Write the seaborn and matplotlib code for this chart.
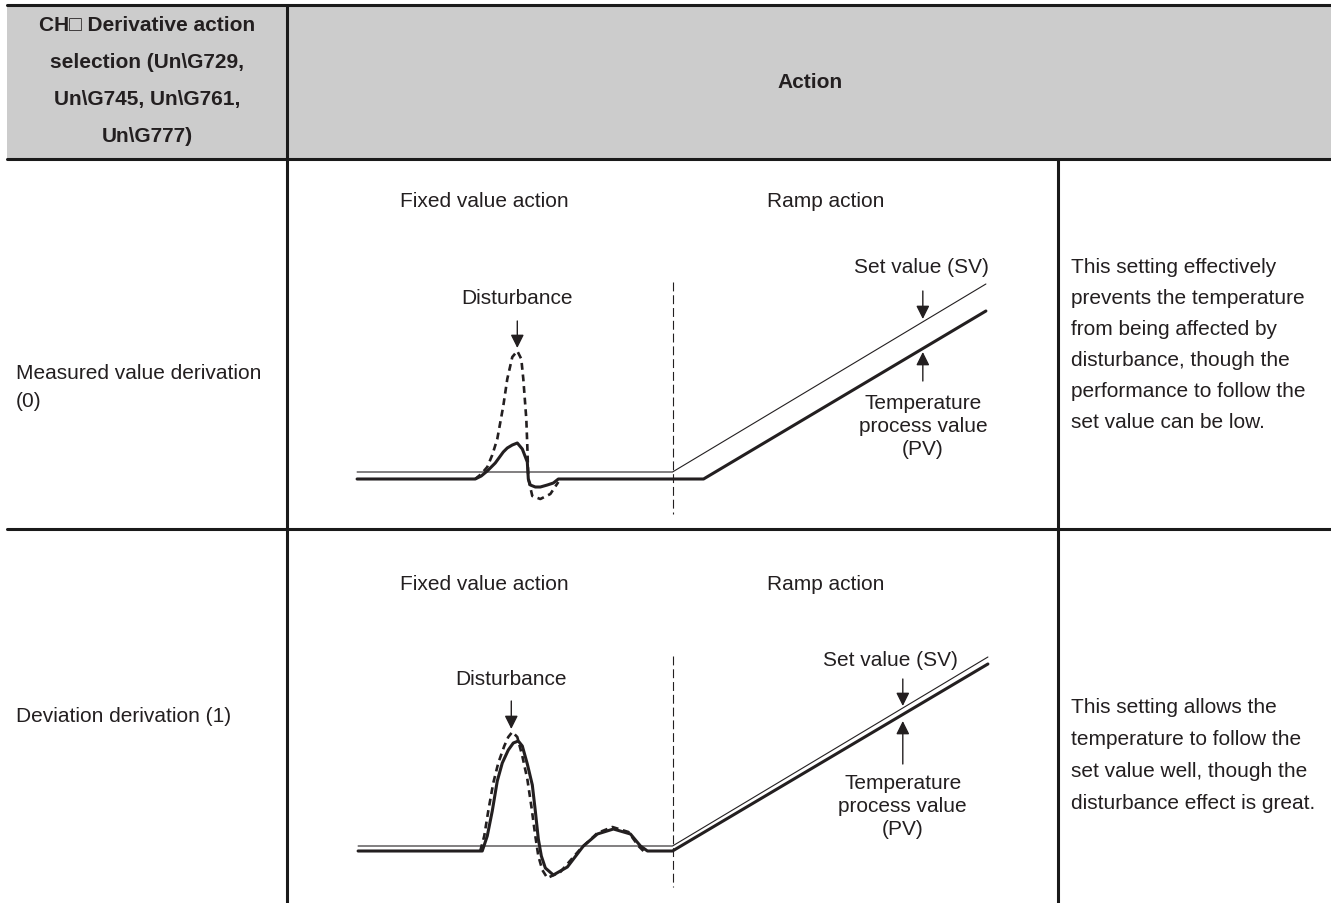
import matplotlib
matplotlib.use("Agg")
import matplotlib.pyplot as plt
from matplotlib.patches import Rectangle
import seaborn as sns

sns.set_theme(style="white")
plt.rcParams["font.family"] = ["Liberation Sans", "DejaVu Sans"]

# ---- table text ----
header_left = ["CH\u25a1 Derivative action", "selection (Un\\G729,",
               "Un\\G745, Un\\G761,", "Un\\G777)"]
header_right = "Action"
row_labels = [["Measured value derivation", "(0)"],
              ["Deviation derivation (1)"]]
row_notes = [["This setting effectively", "prevents the temperature",
              "from being affected by", "disturbance, though the",
              "performance to follow the", "set value can be low."],
             ["This setting allows the", "temperature to follow the",
              "set value well, though the", "disturbance effect is great."]]
phase_labels = ["Fixed value action", "Ramp action"]

# ---- waveforms: time vs. value above the PV baseline ----
# row 1: measured value derivation
m_sv_t = [0, 315, 628]
m_sv_v = [7, 7, 195]
m_pv_t = [0, 118, 124, 130, 138, 146, 150, 155, 160, 165, 170, 171, 173,
          178, 183, 190, 196, 201, 346, 628]
m_pv_v = [0, 0, 3, 8, 16, 27, 31, 34, 36, 30, 17, 0, -6, -8, -8, -6, -4, 0, 0, 168]
m_alt_t = [118, 124, 130, 135, 140, 146, 150, 155, 160, 164, 166, 169, 170,
           171, 175, 183, 193, 201]
m_alt_v = [0, 5, 12, 24, 40, 73, 100, 122, 128, 120, 100, 60, 33, 0, -17,
           -20, -15, -3]

# row 2: deviation derivation
d_sv_t = [1, 315, 630]
d_sv_v = [5, 5, 194]
d_pv_t = [1, 125, 130, 135, 140, 145, 151, 156, 161, 165, 170, 175, 178, 181,
          184, 188, 196, 210, 226, 240, 256, 273, 283, 290, 315, 630]
d_pv_v = [0, 0, 15, 40, 70, 88, 101, 108, 110, 105, 87, 66, 40, 12, -5, -17,
          -24, -16, 5, 17, 22, 17, 5, 0, 0, 187]
d_alt_t = [123, 127, 131, 136, 141, 147, 151, 155, 160, 165, 170, 174, 178,
           181, 185, 190, 203, 223, 240, 255, 271, 281, 286]
d_alt_v = [0, 15, 40, 68, 88, 105, 114, 119, 114, 95, 72, 45, 15, -5, -19,
           -27, -21, 2, 18, 24, 19, 5, 0]

ramp_start = [315, 315]

INK = "#231f20"
FS = 15
W, H = 1331, 904

fig = plt.figure(figsize=(W / 100, H / 100), dpi=100)
base = fig.add_axes([0, 0, 1, 1])
base.set_xlim(0, W)
base.set_ylim(H, 0)
base.axis("off")


def put_lines(ax, x, yc, lines, pitch, **kw):
    # stack lines around a centre, pitch in axis units (sign gives direction)
    y0 = yc - pitch * (len(lines) - 1) / 2
    for i, s in enumerate(lines):
        ax.text(x, y0 + i * pitch, s, va="center", color=INK, fontsize=FS, **kw)


# table frame
base.add_patch(Rectangle((7, 6), W - 7, 154, facecolor="#cccccc", lw=0))
lw_frame = 2.2
base.plot([7, W], [6, 6], color="k", lw=lw_frame)
base.plot([7, W], [160, 160], color="k", lw=lw_frame)
base.plot([7, W], [530, 530], color="k", lw=lw_frame)
base.plot([287, 287], [6, H], color="k", lw=lw_frame)
base.plot([1058, 1058], [160, H], color="k", lw=lw_frame)

put_lines(base, 147, 81, header_left, 37, ha="center", fontweight="bold")
base.text(810, 83, header_right, ha="center", va="center", color=INK,
          fontsize=FS, fontweight="bold")

put_lines(base, 16, 388, row_labels[0], 28, ha="left")
put_lines(base, 16, 717, row_labels[1], 31, ha="left")
put_lines(base, 1071, 345, row_notes[0], 31, ha="left")
put_lines(base, 1071, 756, row_notes[1], 32, ha="left")


def arrow(ax, x, tail, tip):
    ax.annotate("", xy=(x, tip), xytext=(x, tail),
                arrowprops=dict(arrowstyle="-|>,head_length=0.4,head_width=0.2",
                                color=INK, lw=1.0, shrinkA=0, shrinkB=0,
                                mutation_scale=20))


rows = [
    dict(top=160, bottom=530, base=480, sv=(m_sv_t, m_sv_v), pv=(m_pv_t, m_pv_v),
         alt=(m_alt_t, m_alt_v), split=(197, -35)),
    dict(top=530, bottom=904, base=852, sv=(d_sv_t, d_sv_v), pv=(d_pv_t, d_pv_v),
         alt=(d_alt_t, d_alt_v), split=(195, -36)),
]

axes = []
for r in rows:
    ax = fig.add_axes([287 / W, 1 - r["bottom"] / H, (1058 - 287) / W,
                       (r["bottom"] - r["top"]) / H])
    ax.set_xlim(-70, 700)
    ax.set_ylim(r["base"] - r["bottom"], r["base"] - r["top"])
    ax.axis("off")
    ax.patch.set_alpha(0)

    sns.lineplot(x=r["sv"][0], y=r["sv"][1], ax=ax, color=INK, linewidth=0.8,
                 sort=False, estimator=None)
    sns.lineplot(x=r["alt"][0], y=r["alt"][1], ax=ax, color=INK, linewidth=1.9,
                 linestyle=(0, (2.6, 1.8)), sort=False, estimator=None)
    sns.lineplot(x=r["pv"][0], y=r["pv"][1], ax=ax, color=INK, linewidth=2.2,
                 sort=False, estimator=None)
    ax.plot(ramp_start, r["split"], color=INK, lw=0.8, linestyle=(0, (8, 3.5)))
    axes.append(ax)

# row 1 annotations
ax = axes[0]
ax.text(127, 278, phase_labels[0], ha="center", va="center", color=INK, fontsize=FS)
ax.text(468, 278, phase_labels[1], ha="center", va="center", color=INK, fontsize=FS)
ax.text(160, 181, "Disturbance", ha="center", va="center", color=INK, fontsize=FS)
arrow(ax, 160, 158, 131)
ax.text(564, 212, "Set value (SV)", ha="center", va="center", color=INK, fontsize=FS)
arrow(ax, 565, 188, 160)
arrow(ax, 565, 98, 127)
put_lines(ax, 565, 53, ["Temperature", "process value", "(PV)"], -23, ha="center")

# row 2 annotations
ax = axes[1]
ax.text(127, 268, phase_labels[0], ha="center", va="center", color=INK, fontsize=FS)
ax.text(468, 268, phase_labels[1], ha="center", va="center", color=INK, fontsize=FS)
ax.text(154, 172, "Disturbance", ha="center", va="center", color=INK, fontsize=FS)
arrow(ax, 154, 150, 122)
ax.text(533, 192, "Set value (SV)", ha="center", va="center", color=INK, fontsize=FS)
arrow(ax, 545, 172, 145)
arrow(ax, 545, 87, 130)
put_lines(ax, 545, 45, ["Temperature", "process value", "(PV)"], -23, ha="center")

fig.savefig("out.png", dpi=100)
